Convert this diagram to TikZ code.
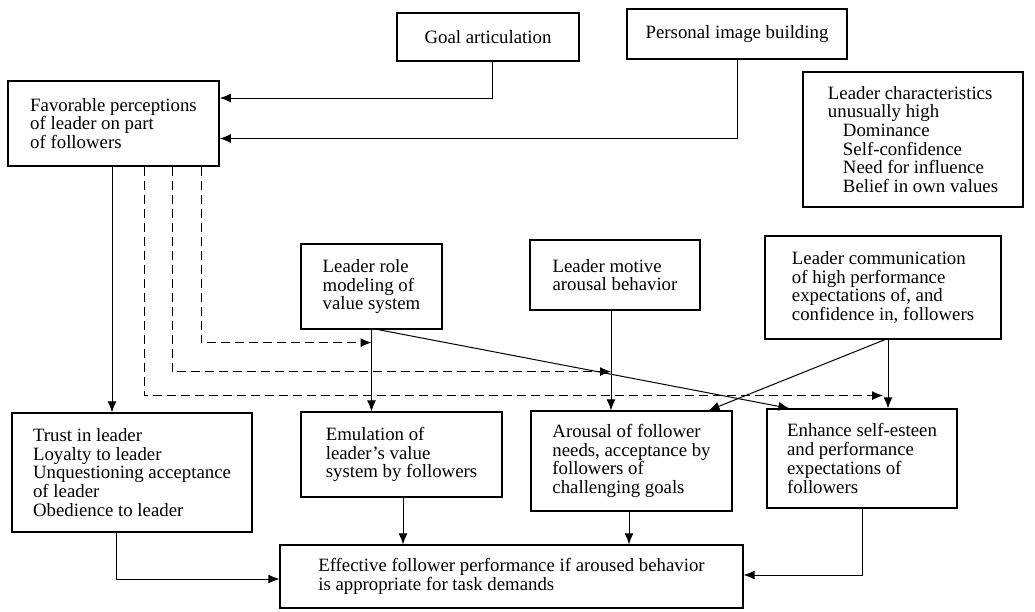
\documentclass[tikz,border=0pt]{standalone}
\usepackage{fontspec}
\setmainfont{Liberation Serif}
\usepackage{tikz}
\usetikzlibrary{arrows.meta}

\tikzset{
  box/.style={draw, line width=1.2pt, rectangle, align=left, inner sep=2pt,
    font=\fontsize{18.8}{18.7}\selectfont},
  arr/.style={line width=1pt, -{Latex[length=11pt,width=9pt]}},
  dsh/.style={arr, dash pattern=on 9pt off 5pt}
}

\begin{document}
\begin{tikzpicture}[x=1pt, y=-1pt]
\useasboundingbox (0,0) rectangle (1035,611);

\node[box, minimum width=182pt, minimum height=48pt, align=center] (goal) at (488,37) {Goal articulation};
\node[box, minimum width=220pt, minimum height=50pt, align=center] (img) at (737,34) {Personal image building};
\node[box, line width=1.7pt, minimum width=211pt, minimum height=85pt] (fav) at (113.5,123.5) {Favorable perceptions\\of leader on part\\of followers};
\node[box, minimum width=220pt, minimum height=135pt] (chars) at (913,139.5) {Leader characteristics\\unusually high\\\hspace*{15pt}Dominance\\\hspace*{15pt}Self-confidence\\\hspace*{15pt}Need for influence\\\hspace*{15pt}Belief in own values};

\node[box, minimum width=141pt, minimum height=85pt] (role) at (371.5,286.5) {Leader role\\modeling of\\value system};
\node[box, minimum width=170pt, minimum height=70pt] (motive) at (615,275) {Leader motive\\arousal behavior};
\node[box, minimum width=236pt, minimum height=103pt] (comm) at (883,287.5) {Leader communication\\of high performance\\expectations of, and\\confidence in, followers};

\node[box, minimum width=240pt, minimum height=119pt] (trust) at (132,472.5) {Trust in leader\\Loyalty to leader\\Unquestioning acceptance\\of leader\\Obedience to leader};
\node[box, minimum width=201pt, minimum height=85pt] (emul) at (401.5,454.5) {Emulation of\\leader's value\\system by followers};
\node[box, minimum width=201pt, minimum height=100pt] (arousal) at (631.5,461) {Arousal of follower\\needs, acceptance by\\followers of\\challenging goals};
\node[box, minimum width=190pt, minimum height=99pt] (enh) at (862,458.5) {Enhance self-esteen\\and performance\\expectations of\\followers};
\node[box, minimum width=463pt, minimum height=63pt] (eff) at (511.5,576.5) {Effective follower performance if aroused behavior\\is appropriate for task demands};

% top inputs
\draw[arr] ([xshift=4pt]goal.south) |- ([yshift=25.5pt]fav.east);
\draw[arr] (img.south) |- ([yshift=-15pt]fav.east);

% from perceptions
\draw[arr] ([xshift=-1.5pt]fav.south) -- ([xshift=-1.5pt]fav.south |- trust.north);
\draw[dsh] ([xshift=87.5pt]fav.south) |- ([yshift=-13pt]role.south);
\draw[dsh] ([xshift=58.5pt]fav.south) |- ([xshift=-4pt,yshift=-61pt]motive.south);
\draw[dsh] ([xshift=30.5pt]fav.south) |- ([yshift=-56pt]comm.south);

% leader behaviors
\draw[arr] (role.south) -- (role.south |- emul.north);
\draw[arr] ([xshift=6.5pt]role.south) -- ([xshift=23pt]enh.north west);
\draw[arr] ([xshift=-4pt]motive.south) -- ([xshift=-4pt]motive.south |- arousal.north);
\draw[arr] ([xshift=5pt]comm.south) -- ([xshift=5pt]comm.south |- enh.north);
\draw[arr] ([xshift=2pt]comm.south) -- ([xshift=-24pt]arousal.north east);

% outcomes
\draw[arr] ([xshift=-16pt]trust.south) |- ([yshift=-2.5pt]eff.west);
\draw[arr] ([xshift=1.5pt]emul.south) -- ([xshift=1.5pt]emul.south |- eff.north);
\draw[arr] ([xshift=-2.5pt]arousal.south) -- ([xshift=-2.5pt]arousal.south |- eff.north);
\draw[arr] (enh.south) |- ([yshift=1.5pt]eff.east);
\end{tikzpicture}
\end{document}
